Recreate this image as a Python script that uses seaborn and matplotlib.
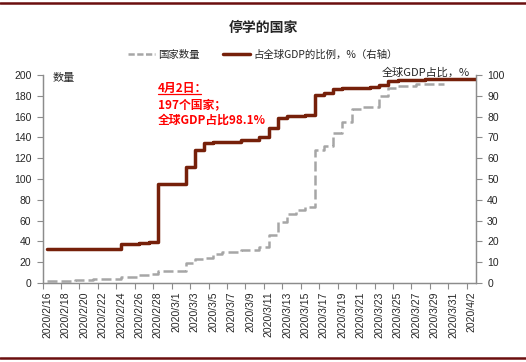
import numpy as np
import pandas as pd
import matplotlib
matplotlib.use('Agg')
import matplotlib.pyplot as plt
from matplotlib.lines import Line2D
import seaborn as sns

# 数据：2020/2/16 - 2020/4/2
dates = pd.date_range('2020-02-16', '2020-04-02', freq='D')
date_labels = [f'{d.year}/{d.month}/{d.day}' for d in dates]

# 停学国家数量（左轴），数据到 3/30
countries = [2, 2, 2, 3, 3, 4, 4, 4, 6, 6,
             7.5, 9, 12, 12, 12, 19.5, 23, 24.5, 28, 29.5,
             29.5, 31.5, 31.5, 34.5, 46, 58.5, 66, 70, 73, 128,
             132, 144, 155, 167, 169, 169, 180, 187, 189, 189,
             191, 191, 191, 191]

# 占全球GDP的比例，%（右轴）
gdp_share = [16.5, 16.5, 16.5, 16.5, 16.5, 16.5, 16.5, 16.5, 18.8, 18.8,
             19.3, 19.9, 47.5, 47.5, 47.5, 56, 64, 67.3, 67.8, 67.8,
             67.8, 68.7, 68.7, 70, 74.4, 79.4, 80.4, 80.5, 80.8, 90.4,
             91.2, 93.3, 93.9, 93.9, 93.9, 94, 95.2, 97.3, 97.6, 97.7,
             97.8, 97.9, 97.9, 98, 98, 98.1, 98.1]

sns.set_style('white')
plt.rcParams['font.family'] = ['Liberation Sans', 'Noto Sans CJK SC']
cjk = ['Noto Sans CJK SC', 'DejaVu Sans']

fig = plt.figure(figsize=(5.26, 3.62), dpi=100)
ax = fig.add_axes([0.081, 0.218, 0.824, 0.575])
ax2 = ax.twinx()

red = '#76200A'
grey = '#A6A6A6'
spine_c = '#8C8C8C'

x_c = np.arange(len(countries))
sns.lineplot(x=x_c, y=countries, ax=ax, color=grey, linewidth=1.8,
             linestyle=(0, (4, 1.6)), drawstyle='steps-post')

x_g = np.append(np.arange(len(gdp_share)), len(gdp_share) - 0.5)
y_g = np.append(gdp_share, gdp_share[-1])
sns.lineplot(x=x_g, y=y_g, ax=ax2, color=red, linewidth=2.5,
             drawstyle='steps-post')

n = len(dates)
ax.set_xlim(-0.5, n - 0.5)
ax.set_ylim(0, 200)
ax2.set_ylim(0, 100)
ax.set_yticks(np.arange(0, 201, 20))
ax2.set_yticks(np.arange(0, 101, 10))

ax.set_xticks(np.arange(0, n, 2))
ax.set_xticklabels(date_labels[::2], rotation=90)
ax.set_xticks(np.arange(-0.5, n - 1, 2), minor=True)
ax.tick_params(axis='x', which='major', length=0, pad=6, labelsize=7.5)
ax.tick_params(axis='x', which='minor', length=4, color=spine_c, width=0.8, direction='out')
ax.tick_params(axis='y', length=4, color=spine_c, width=0.8, direction='out', labelsize=7.5, pad=4)
ax2.tick_params(axis='y', length=4, color=spine_c, width=0.8, direction='out', labelsize=7.5, pad=4)
ax.tick_params(bottom=True, which='both')
ax.set_xlabel('')
ax.set_ylabel('')
ax2.set_ylabel('')

for a in (ax, ax2):
    a.spines['top'].set_visible(False)
    for s in ('left', 'right', 'bottom'):
        a.spines[s].set_color(spine_c)
        a.spines[s].set_linewidth(0.9)

# 标题和图例
fig.text(0.5, 0.922, '停学的国家', ha='center', va='center', fontsize=10,
         fontweight='bold', family=cjk)
handles = [Line2D([], [], color=grey, linewidth=1.8, linestyle=(0, (2.5, 1))),
           Line2D([], [], color=red, linewidth=2.5)]
fig.legend(handles, ['国家数量', '占全球GDP的比例，%（右轴）'], loc='center',
           bbox_to_anchor=(0.5, 0.848), ncol=2, frameon=False,
           prop={'family': cjk, 'size': 7.5}, handlelength=2.6,
           handletextpad=0.3, columnspacing=2.2)

ax.text(0.022, 0.985, '数量', transform=ax.transAxes, ha='left', va='center',
        fontsize=8, family=cjk)
ax2.text(0.985, 1.01, '全球GDP占比，%', transform=ax2.transAxes, ha='right',
         va='center', fontsize=8, family=cjk)

# 注释
t1 = ax2.text(0.266, 0.935, '4月2日：', transform=ax2.transAxes, color='#FF0000',
              fontsize=8.5, fontweight='bold', family=cjk, va='center')
ax2.text(0.266, 0.858, '197个国家；', transform=ax2.transAxes, color='#FF0000',
         fontsize=8.5, fontweight='bold', family=cjk, va='center')
ax2.text(0.266, 0.781, '全球GDP占比98.1%', transform=ax2.transAxes, color='#FF0000',
         fontsize=8.5, fontweight='bold', family=cjk, va='center')

fig.canvas.draw()
bb = t1.get_window_extent().transformed(fig.transFigure.inverted())
fig.add_artist(Line2D([bb.x0, bb.x1 - 0.012], [bb.y0 + 0.004, bb.y0 + 0.004],
                      color='#FF0000', linewidth=0.9, transform=fig.transFigure))

# 上下边框线
border = '#6B0F0F'
fig.add_artist(Line2D([0, 1], [0.991, 0.991], color=border, linewidth=1.8,
                      transform=fig.transFigure))
fig.add_artist(Line2D([0, 1], [0.011, 0.011], color=border, linewidth=1.8,
                      transform=fig.transFigure))

fig.savefig('out.png', dpi=100)
